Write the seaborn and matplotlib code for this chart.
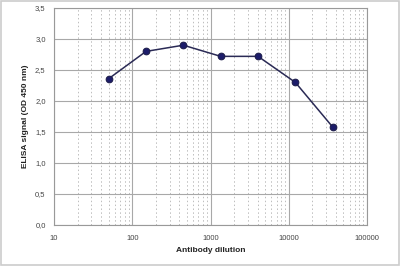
import matplotlib
matplotlib.use("Agg")
import matplotlib.pyplot as plt
import seaborn as sns
import pandas as pd
from matplotlib.ticker import LogLocator, FixedLocator, FuncFormatter
from matplotlib.patches import Rectangle

dilution = [50, 150, 450, 1350, 4050, 12150, 36450]
signal = [2.36, 2.80, 2.90, 2.72, 2.72, 2.30, 1.58]
x_ticks = [10, 100, 1000, 10000, 100000]
y_ticks = [0.0, 0.5, 1.0, 1.5, 2.0, 2.5, 3.0, 3.5]

df = pd.DataFrame({"dilution": dilution, "signal": signal})

sns.set_style("white")
plt.rcParams['font.family'] = ['Liberation Sans', 'DejaVu Sans']

fig = plt.figure(figsize=(4.0, 2.66), dpi=100)
ax = fig.add_axes([0.135, 0.154, 0.7825, 0.816])

sns.lineplot(data=df, x="dilution", y="signal", ax=ax, color="#2a2a55",
             linewidth=1.1, marker="o", markersize=4.8,
             markerfacecolor="#1c1c6a", markeredgecolor="#1c1c4a")

ax.set_xscale("log")
ax.set_xlim(10, 100000)
ax.set_ylim(0, 3.5)
ax.xaxis.set_major_locator(FixedLocator(x_ticks))
ax.xaxis.set_minor_locator(LogLocator(base=10, subs=range(2, 10)))
ax.xaxis.set_major_formatter(FuncFormatter(lambda v, p: f"{int(round(v))}"))
ax.yaxis.set_major_locator(FixedLocator(y_ticks))
ax.yaxis.set_major_formatter(FuncFormatter(lambda v, p: f"{v:.1f}".replace(".", ",")))

ax.grid(True, which="major", axis="both", color="#a8a8a8", linewidth=0.8, linestyle="-")
ax.grid(True, which="minor", axis="x", color="#bdbdbd", linewidth=0.7, linestyle=(0, (1.5, 2.5)))
ax.set_axisbelow(True)

for s in ax.spines.values():
    s.set_color("#999999")
    s.set_linewidth(0.8)

ax.tick_params(axis="both", which="both", length=0, labelsize=5.5, colors="#444444", pad=6)
ax.tick_params(axis="x", pad=7)
ax.set_xlabel("Antibody dilution", fontsize=6, fontweight="bold", color="#222222", labelpad=4)
ax.set_ylabel("ELISA signal (OD 450 nm)", fontsize=6, fontweight="bold", color="#222222", labelpad=4)

fig.patches.append(Rectangle((0.003, 0.004), 0.994, 0.992, transform=fig.transFigure,
                             fill=False, edgecolor="#cccccc", linewidth=1.2))

fig.savefig("out.png", dpi=100)
